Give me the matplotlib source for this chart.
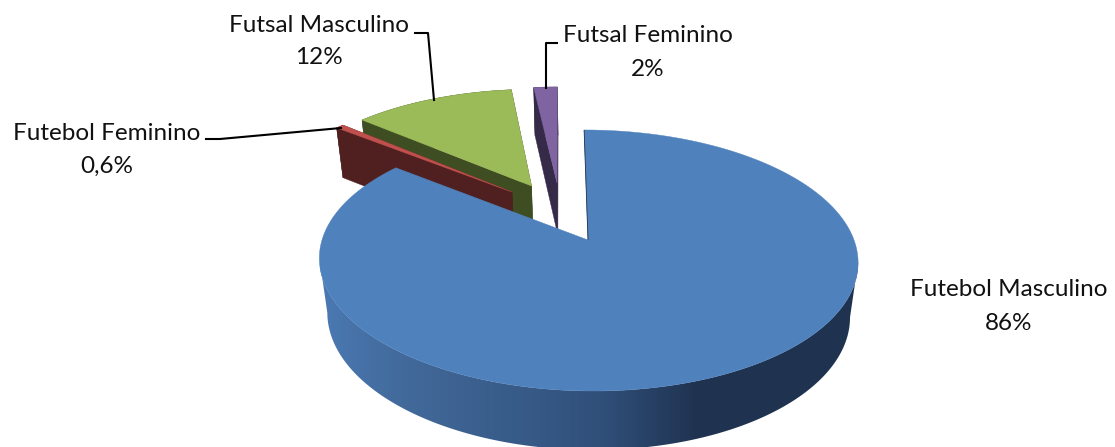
import numpy as np
import matplotlib
matplotlib.use("Agg")
import matplotlib.pyplot as plt
from matplotlib.colors import LinearSegmentedColormap, to_rgb
from matplotlib.patches import Polygon

labels = ["Futebol Masculino", "Futebol Feminino", "Futsal Masculino", "Futsal Feminino"]
values = [86, 0.6, 12, 1.75]
pct_labels = ["86%", "0,6%", "12%", "2%"]
top_colors = ["#4F81BD", "#C0504D", "#9BBB59", "#8064A2"]
side_colors = ["#1F3350", "#4F201F", "#3F4D22", "#352A48"]

# how far each slice is pulled out of the pie (in pie radii)
explode = [(0, 0), (-0.297, 0.40), (-0.2197, 0.4545), (-0.117, 0.4816)]

# fake excel 3d camera
CX, CY = 588, 240
R, RY = 266, 127.3
K, SHEAR = 0.157, -4.5
DEPTH, SHRINK = 56, 0.03


def project(u, v, low=False):
    d = 1 + K * v + (SHRINK if low else 0)
    x = CX + (R * u + SHEAR * v) / d
    y = CY - RY * v / d
    if low:
        y = y + DEPTH / d
    return x, y


def ring(theta, off, low=False):
    return project(np.sin(theta) + off[0], np.cos(theta) + off[1], low)


def draw_side_piece(ax, start, stop, color_top, color_side, off):
    # one slice, walls first and the top on it
    angles = np.linspace(start, stop, 60)
    ax0, ay0 = project(off[0], off[1])
    bx0, by0 = project(off[0], off[1], True)
    tx, ty = ring(angles, off)
    lx, ly = ring(angles, off, True)
    for i in (0, -1):
        ax.add_patch(Polygon([(tx[i], ty[i]), (ax0, ay0), (bx0, by0), (lx[i], ly[i])],
                             fc=color_side, ec=color_side, lw=0.3))
    arc = list(zip(tx, ty)) + list(zip(lx, ly))[::-1]
    ax.add_patch(Polygon(arc, fc=color_side, ec=color_side, lw=0.3))
    ax.add_patch(Polygon([(ax0, ay0)] + list(zip(tx, ty)), fc=color_top, ec=color_top, lw=0.3))


fig = plt.figure(figsize=(11.15, 4.47), dpi=100)
ax = fig.add_axes([0, 0, 1, 1])
ax.set_xlim(0, 1115)
ax.set_ylim(447, 0)
ax.axis("off")

edges = np.radians(np.cumsum([0] + values) / sum(values) * 360)

# back slices, purple first since red sits in front of green
for i in (3, 2, 1):
    draw_side_piece(ax, edges[i], edges[i + 1], top_colors[i], side_colors[i], explode[i])

# big slice, the wall is a left to right gradient clipped to the wall shape
angles = np.linspace(edges[0], edges[1], 400)
tx, ty = ring(angles, explode[0])
lx, ly = ring(angles, explode[0], True)

# only the front part of the wall, from the widest point right to the widest point left
right, left = np.argmax(tx), np.argmin(tx)
wall_top = list(zip(tx[right:left + 1], ty[right:left + 1]))
wall_low = list(zip(lx[right:left + 1], ly[right:left + 1]))
wall = Polygon(wall_top + wall_low[::-1], fc="none", ec="none")
ax.add_patch(wall)
stops = [(0, "#4B79B3"), (0.15, "#426A9B"), (0.52, "#30507A"), (0.70, "#1F3350"), (1, "#1F3350")]
cmap = LinearSegmentedColormap.from_list("wall", [(p, to_rgb(c)) for p, c in stops])
img = ax.imshow(np.linspace(0, 1, 256).reshape(1, -1), cmap=cmap, extent=(320, 860, 460, 120),
                aspect="auto", zorder=1, interpolation="bilinear")
img.set_clip_path(wall)
ax.set_xlim(0, 1115)
ax.set_ylim(447, 0)

ax0, ay0 = project(0, 0)
ax.add_patch(Polygon([(ax0, ay0)] + list(zip(tx, ty)), fc=top_colors[0], ec=top_colors[0], lw=0.3, zorder=2))
ax.plot([tx[0], ax0], [ty[0], ay0], color=side_colors[0], lw=0.6, solid_capstyle="butt", zorder=3)

# labels
label_pos = [(1009, 290, 324), (107, 133, 166), (319, 25, 58), (648, 35, 69)]
for name, pct, (x, y1, y2) in zip(labels, pct_labels, label_pos):
    ax.text(x, y1, name, ha="center", va="center", family="Lato", fontsize=17.5, color="#111111", zorder=4)
    ax.text(x, y2, pct, ha="center", va="center", family="Lato", fontsize=17.5, color="#111111", zorder=4)

# leader lines
ax.plot([206, 220, 341], [139, 139, 128], color="black", lw=1.5, zorder=4)
ax.plot([415, 428, 434], [33, 33, 100], color="black", lw=1.5, zorder=4)
ax.plot([557, 546, 546], [43, 43, 88], color="black", lw=1.5, zorder=4)

fig.savefig("out.png", dpi=100)
